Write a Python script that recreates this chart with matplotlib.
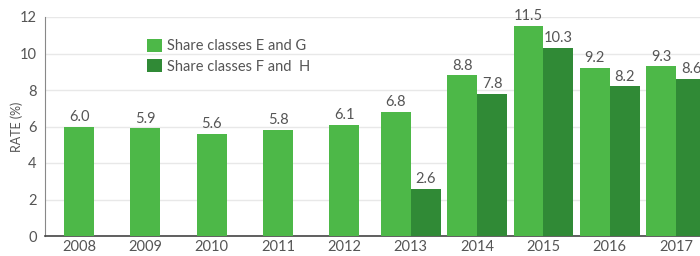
import numpy as np
import matplotlib
matplotlib.use("Agg")
import matplotlib.pyplot as plt

plt.rcParams["font.family"] = ["Lato", "DejaVu Sans"]

# Data
years = ["2008", "2009", "2010", "2011", "2012", "2013", "2014", "2015", "2016", "2017"]
eg_rates = [6.0, 5.9, 5.6, 5.8, 6.1, 6.8, 8.8, 11.5, 9.2, 9.3]
fh_rates = [None, None, None, None, None, 2.6, 7.8, 10.3, 8.2, 8.6]
series_names = ["Share classes E and G", "Share classes F and  H"]

light = "#4db848"
dark = "#308a36"
text_col = "#555555"

fig = plt.figure(figsize=(7, 2.56), dpi=100)
ax = fig.add_axes([45 / 700, 20 / 256, 655 / 700, 219 / 256])

x = np.arange(len(years))
w = 0.45

for i, (a, b) in enumerate(zip(eg_rates, fh_rates)):
    if b is None:
        xa = x[i]
    else:
        xa = x[i] - w / 2
        xb = x[i] + w / 2
        ax.bar(xb, b, width=w, color=dark, zorder=3,
               label=series_names[1] if i == 5 else None)
        ax.text(xb, b + 0.15, f"{b:.1f}", ha="center", va="bottom",
                fontsize=10.5, color=text_col)
    ax.bar(xa, a, width=w, color=light, zorder=3,
           label=series_names[0] if i == 0 else None)
    ax.text(xa, a + 0.15, f"{a:.1f}", ha="center", va="bottom",
            fontsize=10.5, color=text_col)

ax.set_xlim(-0.513, 9.36)
ax.set_ylim(0, 12)
ax.set_yticks(range(0, 13, 2))
ax.set_xticks(x)
ax.set_xticklabels(years)
ax.tick_params(axis="both", length=0, labelsize=10.5, labelcolor=text_col)
ax.tick_params(axis="x", pad=3)
ax.tick_params(axis="y", pad=6)
ax.set_ylabel("RATE (%)", fontsize=9, color=text_col)
ax.yaxis.set_label_coords(-0.033, 0.5)

ax.grid(axis="y", color="#e8e8e8", linewidth=1, zorder=0)
for s in ["top", "right"]:
    ax.spines[s].set_visible(False)
ax.spines["left"].set_color("#888888")
ax.spines["bottom"].set_color("#444444")
ax.spines["bottom"].set_linewidth(1.2)

handles, labels = ax.get_legend_handles_labels()
order = [labels.index(n) for n in series_names]
leg = ax.legend([handles[k] for k in order], [labels[k] for k in order],
                loc="upper left", bbox_to_anchor=(0.136, 0.96),
                frameon=False, fontsize=10.5, handlelength=1.0, handleheight=1.0,
                handletextpad=0.35, labelspacing=0.4)
for t in leg.get_texts():
    t.set_color(text_col)

fig.savefig("out.png", dpi=100)
